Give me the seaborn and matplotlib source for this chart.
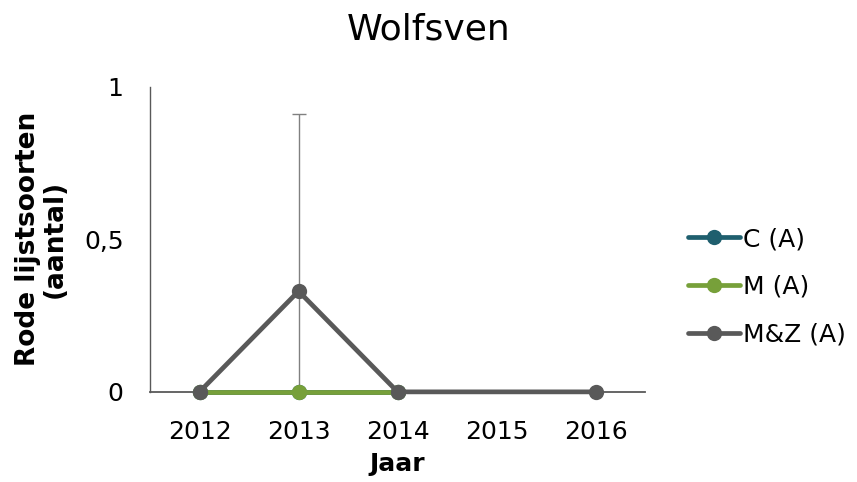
import numpy as np
import pandas as pd
import matplotlib
matplotlib.use("Agg")
import matplotlib.pyplot as plt
import seaborn as sns

years = ["2012", "2013", "2014", "2015", "2016"]
c_a = [0, 0, 0, np.nan, np.nan]
m_a = [0, 0, 0, np.nan, np.nan]
mz_a = [0, 0.33, 0, np.nan, 0]
mz_err_low = [0, 0.33, 0, 0, 0]
mz_err_high = [0, 0.58, 0, 0, 0]
series_names = ["C (A)", "M (A)", "M&Z (A)"]
colors = ["#1f5f6e", "#77a03a", "#595959"]

sns.set_style("white")
plt.rcParams["font.family"] = ["DejaVu Sans"]
plt.rcParams["text.color"] = "black"
plt.rcParams["axes.labelcolor"] = "black"
plt.rcParams["xtick.color"] = "black"
plt.rcParams["ytick.color"] = "black"

rows = []
for name, vals in zip(series_names, [c_a, m_a, mz_a]):
    for i, v in enumerate(vals):
        rows.append({"pos": i, "value": v, "series": name})
df = pd.DataFrame(rows).dropna()

fig = plt.figure(figsize=(8.57, 4.82), dpi=100)
ax = fig.add_axes([0.175, 0.187, 0.578, 0.633])

# error bar behind the lines
ax.errorbar(range(len(years)), mz_a, yerr=[mz_err_low, mz_err_high], fmt="none",
            ecolor="#808080", elinewidth=1, capsize=5, capthick=1, zorder=1)

n_before = len(ax.lines)
sns.lineplot(data=df, x="pos", y="value", hue="series", hue_order=series_names,
             palette=colors, marker="o", markersize=11, markeredgewidth=0,
             linewidth=3.4, ax=ax, zorder=3, legend=False)
for ln in ax.lines[n_before:]:
    ln.set_clip_on(False)

ax.set_xlim(-0.5, 4.5)
ax.set_ylim(0, 1)
ax.set_xticks(range(len(years)))
ax.set_xticklabels(years)
ax.set_yticks([0, 0.5, 1])
ax.set_yticklabels(["0", "0,5", "1"])
ax.tick_params(axis="both", length=0, labelsize=18)
ax.tick_params(axis="x", pad=20)
ax.tick_params(axis="y", pad=19)
for s in ["top", "right"]:
    ax.spines[s].set_visible(False)
ax.spines["left"].set_color("#595959")
ax.spines["bottom"].set_color("#595959")
ax.spines["left"].set_linewidth(1)
ax.spines["bottom"].set_linewidth(1.3)

ax.set_xlabel("Jaar", fontsize=18, fontweight="bold", labelpad=6)
ax.set_ylabel("Rode lijstsoorten\n(aantal)", fontsize=19, fontweight="bold",
              labelpad=12, linespacing=1.0)
fig.suptitle("Wolfsven", fontsize=26, x=0.5, y=0.975)

handles = [plt.Line2D([0], [0], color=c, lw=3.4, marker="o", markersize=11,
                      markeredgewidth=0) for c in colors]
fig.legend(handles, series_names, loc="center left", bbox_to_anchor=(0.776, 0.405),
           frameon=False, fontsize=18, handlelength=2.1, handletextpad=0.1,
           labelspacing=0.95)

fig.savefig("out.png", dpi=100)
